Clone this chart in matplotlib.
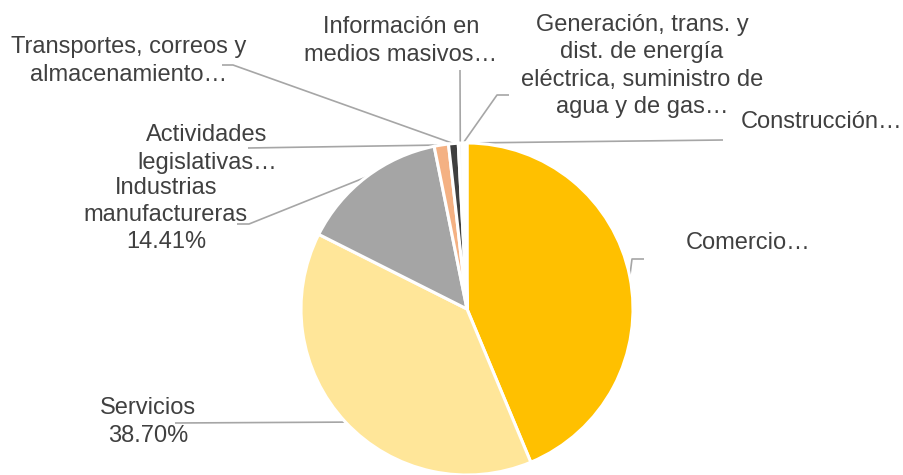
import numpy as np
import matplotlib as mpl
mpl.use('Agg')
import matplotlib.pyplot as plt

plt.rcParams['font.family'] = ['Liberation Sans', 'DejaVu Sans']

# data, clockwise from the top
sectors = ['Comercio', 'Servicios', 'Industrias manufactureras',
           'Actividades legislativas', 'Transportes, correos y almacenamiento',
           'Información en medios masivos',
           'Generación, trans. y dist. de energía eléctrica, suministro de agua y de gas',
           'Construcción']
shares = [43.72, 38.70, 14.41, 1.39, 0.94, 0.39, 0.17, 0.28]
labels = ['Comercio…', 'Servicios\n38.70%', 'Industrias\nmanufactureras\n14.41%',
          'Actividades\nlegislativas…', 'Transportes, correos y\nalmacenamiento…',
          'Información en\nmedios masivos…',
          'Generación, trans. y\ndist. de energía\neléctrica, suministro de\nagua y de gas…',
          'Construcción…']
colors = ['#FFC000', '#FFE699', '#A5A5A5', '#F4B183', '#3F3F3F',
          '#F7F7F7', '#FBE5D6', '#FFF2CC']

W, H = 904, 475
def py(y):
    # pixel row -> data y (axes are laid out in pixels)
    return H - y

fig = plt.figure(figsize=(W / 100, H / 100), dpi=100)
ax = fig.add_axes([0, 0, 1, 1])

cx, cy, r = 467, py(309), 166
wedges, _ = ax.pie(shares, colors=colors, startangle=90, counterclock=False,
                   center=(cx, cy), radius=r,
                   wedgeprops=dict(edgecolor='white', linewidth=2.2))

ax.set_xlim(0, W)
ax.set_ylim(0, H)
ax.set_aspect('auto')
ax.axis('off')

# label boxes and leader line elbows (pixel coords)
text_pos = [(748, 243), (148, 422), (166, 215), (207, 149), (129, 61),
            (401, 41), (642, 66), (822, 122)]
leader = [[(644, 259), (632, 259)],
          [(175, 423)],
          [(237, 224), (249, 224)],
          [(248, 148)],
          [(222, 65), (233, 65)],
          [(460, 70)],
          [(509, 95), (497, 95)],
          [(723, 140)]]

line_col = '#A6A6A6'
text_col = '#404040'

for w, lab, tp, pts in zip(wedges, labels, text_pos, leader):
    mid = np.deg2rad((w.theta1 + w.theta2) / 2)
    rim = (cx + r * np.cos(mid), cy + r * np.sin(mid))
    xs = [p[0] for p in pts] + [rim[0]]
    ys = [py(p[1]) for p in pts] + [rim[1]]
    ax.plot(xs, ys, color=line_col, lw=1.2, solid_capstyle='butt', zorder=0)
    ax.text(tp[0], py(tp[1]), lab, ha='center', va='center',
            multialignment='center', fontsize=17, color=text_col,
            linespacing=1.3)

fig.savefig('out.png', dpi=100)
